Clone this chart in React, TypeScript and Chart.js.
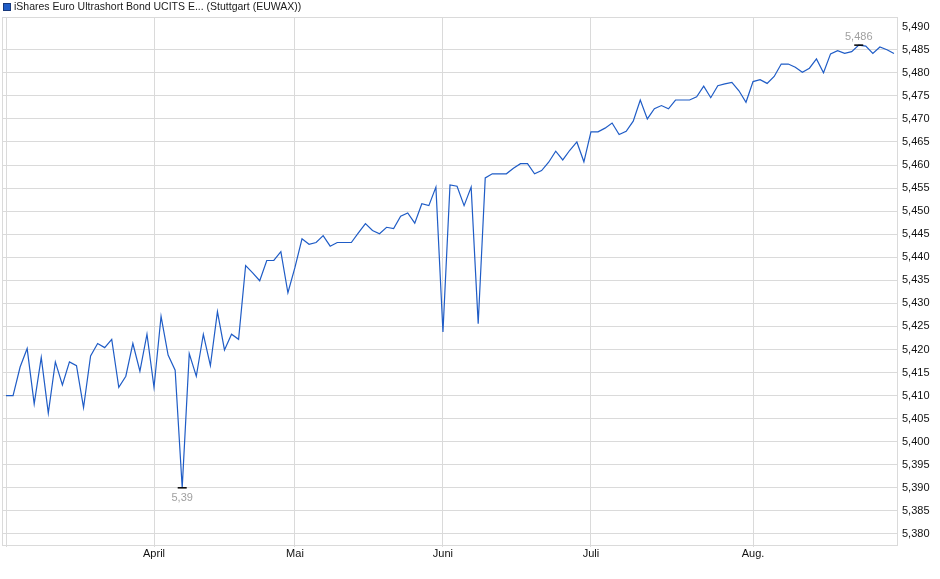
import React, { useEffect, useRef } from 'react';
import { Chart, registerables } from 'chart.js';

Chart.register(...registerables);

const title = 'iShares Euro Ultrashort Bond UCITS E... (Stuttgart (EUWAX))';

// daily closing prices, trading days from early March to end of August
const prices = [
  5.410, 5.410, 5.4162, 5.4202, 5.4082, 5.4183, 5.4062, 5.4173, 5.4123, 5.4173,
  5.4165, 5.4074, 5.4186, 5.4213, 5.4204, 5.4222, 5.4118, 5.4142, 5.4213, 5.4153,
  5.4233, 5.4118, 5.4272, 5.4188, 5.4155, 5.390, 5.4191, 5.4142, 5.4233, 5.4165,
  5.4282, 5.4199, 5.4233, 5.4222, 5.4382, 5.4366, 5.4349, 5.4393, 5.4393, 5.4412,
  5.4323, 5.4378, 5.4440, 5.4428, 5.4432, 5.4447, 5.4424, 5.4432, 5.4432, 5.4432,
  5.4453, 5.4473, 5.4458, 5.4451, 5.4465, 5.4462, 5.4489, 5.4496, 5.4474, 5.4516,
  5.4512, 5.4552, 5.4238, 5.4557, 5.4554, 5.4512, 5.4552, 5.4256, 5.4572, 5.4581,
  5.4581, 5.4581, 5.4593, 5.4603, 5.4603, 5.4581, 5.4588, 5.4606, 5.4630, 5.4611,
  5.4632, 5.4650, 5.4607, 5.4672, 5.4672, 5.4680, 5.4691, 5.4666, 5.4673, 5.4695,
  5.4741, 5.4700, 5.4722, 5.4729, 5.4722, 5.4741, 5.4741, 5.4741, 5.4748, 5.4771,
  5.4746, 5.4772, 5.4776, 5.4779, 5.4761, 5.4736, 5.4781, 5.4785, 5.4777, 5.4792,
  5.4819, 5.4819, 5.4812, 5.4801, 5.4810, 5.4830, 5.4800, 5.4841, 5.4848, 5.4842,
  5.4846, 5.4860, 5.4858, 5.4842, 5.4856, 5.4850, 5.4842,
];

// index of first trading day of each month
const monthStarts = [0, 21, 41, 62, 83, 106];
const monthLabels = ['', 'April', 'Mai', 'Juni', 'Juli', 'Aug.'];

const yTicks = [
  5.380, 5.385, 5.390, 5.395, 5.400, 5.405, 5.410, 5.415, 5.420, 5.425, 5.430, 5.435,
  5.440, 5.445, 5.450, 5.455, 5.460, 5.465, 5.470, 5.475, 5.480, 5.485, 5.490,
];
const yMin = 5.3776;
const yMax = 5.4921;

const FONT = '"Liberation Sans", Arial, sans-serif';
const LINE = '#1f5cc6';
const GRID = '#dadada';

const fmtShort = (v: number) => String(parseFloat(v.toFixed(3))).replace('.', ',');

const overlay = {
  id: 'overlay',
  afterDraw(chart: any) {
    const { ctx, chartArea: a, scales } = chart;
    ctx.save();
    // frame
    ctx.strokeStyle = GRID;
    ctx.lineWidth = 1;
    ctx.strokeRect(a.left + 0.5, a.top + 0.5, a.right - a.left - 1, a.bottom - a.top);
    // legend / title
    ctx.fillStyle = LINE;
    ctx.fillRect(3, 3, 7, 7);
    ctx.strokeStyle = '#17387a';
    ctx.strokeRect(3.5, 3.5, 7, 7);
    ctx.font = `10.5px ${FONT}`;
    ctx.fillStyle = '#1a1a1a';
    ctx.textBaseline = 'middle';
    ctx.textAlign = 'left';
    ctx.fillText(title, 14, 7.5);
    // min / max markers
    let minI = 0, maxI = 0;
    prices.forEach((v, i) => {
      if (v < prices[minI]) minI = i;
      if (v > prices[maxI]) maxI = i;
    });
    const draw = (i: number, below: boolean) => {
      const x = scales.x.getPixelForValue(i);
      const y = scales.y.getPixelForValue(prices[i]);
      ctx.strokeStyle = '#000';
      ctx.lineWidth = 1.5;
      ctx.beginPath();
      ctx.moveTo(x - 4.5, y);
      ctx.lineTo(x + 4.5, y);
      ctx.stroke();
      ctx.fillStyle = '#a0a0a0';
      ctx.textAlign = 'center';
      ctx.textBaseline = 'middle';
      ctx.font = `11px ${FONT}`;
      ctx.fillText(fmtShort(prices[i]), x, below ? y + 10.5 : y - 8.5);
    };
    draw(minI, true);
    draw(maxI, false);
    ctx.restore();
  },
};

export default function App() {
  const ref = useRef<HTMLCanvasElement | null>(null);
  useEffect(() => {
    if (!ref.current) return;
    const chart = new Chart(ref.current, {
      type: 'line',
      data: {
        datasets: [
          {
            data: prices.map((y, i) => ({ x: i, y })),
            borderColor: LINE,
            borderWidth: 1.2,
            pointRadius: 0,
            tension: 0,
            fill: false,
          },
        ],
      },
      options: {
        animation: false,
        responsive: false,
        maintainAspectRatio: false,
        layout: { padding: { top: 17, left: 2, right: 0, bottom: 0 } },
        plugins: { legend: { display: false }, tooltip: { enabled: false } },
        scales: {
          x: {
            type: 'linear',
            min: -0.57,
            max: 126.57,
            afterBuildTicks: (s: any) => {
              s.ticks = monthStarts.map((v) => ({ value: v }));
            },
            afterFit: (s: any) => {
              s.height = 34;
            },
            grid: { color: GRID, tickLength: 2, drawTicks: true },
            border: { display: false },
            ticks: {
              autoSkip: false,
              maxRotation: 0,
              padding: 0,
              color: '#111',
              font: { family: FONT, size: 11 },
              callback: (_v: any, i: number) => monthLabels[i] ?? '',
            },
          },
          y: {
            position: 'right',
            min: yMin,
            max: yMax,
            afterBuildTicks: (s: any) => {
              s.ticks = yTicks.map((v) => ({ value: v }));
            },
            afterFit: (s: any) => {
              s.width = 42;
            },
            grid: {
              drawTicks: false,
              color: (c: any) => (c.tick && c.tick.value > 5.4895 ? 'rgba(0,0,0,0)' : GRID),
            },
            border: { display: false },
            ticks: {
              padding: 4,
              color: '#111',
              font: { family: FONT, size: 11 },
              callback: (v: any) => Number(v).toFixed(3).replace('.', ','),
            },
          },
        },
      },
      plugins: [overlay],
    } as any);
    return () => chart.destroy();
  }, []);
  return (
    <div style={{ position: 'absolute', left: 0, top: 0, width: 940, height: 579, background: '#fff' }}>
      <canvas ref={ref} width={940} height={579} />
    </div>
  );
}
